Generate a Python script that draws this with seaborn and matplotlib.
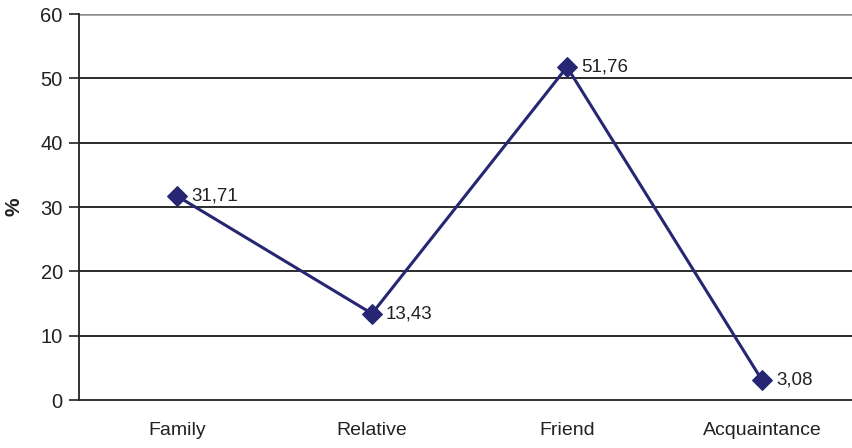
import matplotlib
matplotlib.use("Agg")
import matplotlib.pyplot as plt
import seaborn as sns
import pandas as pd
from matplotlib.ticker import FixedLocator

categories = ["Family", "Relative", "Friend", "Acquaintance"]
percent = [31.71, 13.43, 51.76, 3.08]
y_ticks = [0, 10, 20, 30, 40, 50, 60]

sns.set_theme(style="white")
plt.rcParams["font.family"] = ["Liberation Sans", "DejaVu Sans"]

W, H = 853, 448
fig = plt.figure(figsize=(W / 100, H / 100), dpi=100)
ax = fig.add_axes([79.5 / W, (H - 400) / H, 780 / W, 386 / H])

df = pd.DataFrame({"cat": categories, "pct": percent})
df["pos"] = range(len(categories))

line_color = "#262673"
sns.lineplot(data=df, x="pos", y="pct", ax=ax, color=line_color, linewidth=2.2,
             marker="D", markersize=10.5, markeredgecolor=line_color, sort=False)

for x, v in zip(df["pos"], df["pct"]):
    ax.annotate(f"{v:.2f}".replace(".", ","), (x, v), xytext=(10, 0),
                textcoords="offset points", va="center", ha="left",
                fontsize=13.5, color="#222222")

ax.set_xlim(-0.5, len(categories) - 0.5)
ax.set_ylim(0, 60)

# horizontal grid lines
for t in y_ticks[1:-1]:
    ax.axhline(t, color="#1a1a1a", linewidth=1.3, zorder=0)
ax.axhline(60, color="#8c8c8c", linewidth=1.8, zorder=0)

ax.set_yticks(y_ticks)
ax.set_xticks(df["pos"])
ax.set_xticklabels(categories)
ax.xaxis.set_minor_locator(FixedLocator([i + 0.5 for i in range(-1, len(categories))]))
ax.tick_params(axis="x", which="major", length=0, pad=16, labelsize=14, colors="#222222")
ax.tick_params(axis="x", which="minor", length=6, width=1.2, direction="out", color="#222222")
ax.tick_params(axis="y", length=7, width=1.2, direction="out", labelsize=14.5,
               colors="#222222", left=True, pad=5)

for s in ["top", "right"]:
    ax.spines[s].set_visible(False)
for s in ["left", "bottom"]:
    ax.spines[s].set_color("#222222")
    ax.spines[s].set_linewidth(1.3)

ax.set_xlabel("")
ax.set_ylabel("%", fontsize=15, fontweight="bold", labelpad=12, color="#222222")

fig.savefig("out.png", dpi=100)
